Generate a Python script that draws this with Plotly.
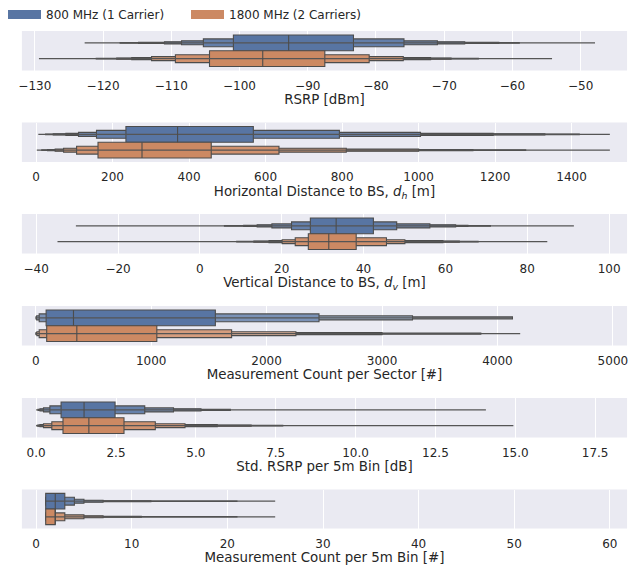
import plotly.graph_objects as go

# ---------------- data ----------------
series_names = ["800 MHz (1 Carrier)", "1800 MHz (2 Carriers)"]

axis_titles = [
    "RSRP [dBm]",
    "Horizontal Distance to BS, <i>d<sub>h</sub></i> [m]",
    "Vertical Distance to BS, <i>d<sub>v</sub></i> [m]",
    "Measurement Count per Sector [#]",
    "Std. RSRP per 5m Bin [dB]",
    "Measurement Count per 5m Bin [#]",
]

# letter values: lower / upper box ends, innermost box first
rsrp_800_low = [-100.9, -105.3, -108.5, -111.0, -114.8, -117.5]
rsrp_800_high = [-83.3, -75.9, -71.0, -67.0, -62.0, -59.0]
rsrp_800_median = -92.8
rsrp_800_minmax = [-122.7, -47.9]
rsrp_1800_low = [-104.4, -109.4, -112.9, -115.8, -118.0, -121.0]
rsrp_1800_high = [-87.5, -81.0, -76.0, -72.0, -69.0, -65.0]
rsrp_1800_median = -96.6
rsrp_1800_minmax = [-129.4, -54.2]

dh_800_low = [235, 158, 111, 78, 45, 25]
dh_800_high = [568, 793, 1005, 1195, 1330, 1420]
dh_800_median = 370
dh_800_minmax = [6, 1500]
dh_1800_low = [162, 106, 72, 50, 30, 15]
dh_1800_high = [458, 635, 811, 1000, 1142, 1280]
dh_1800_median = 277
dh_1800_minmax = [2, 1500]

dv_800_low = [27.0, 22.4, 17.6, 14.0, 10.7, 6.0]
dv_800_high = [42.4, 48.1, 56.2, 62.5, 65.5, 71.0]
dv_800_median = 33.3
dv_800_minmax = [-30.3, 91.4]
dv_1800_low = [26.5, 23.3, 20.1, 16.9, 13.2, 9.0]
dv_1800_high = [38.2, 45.6, 50.1, 59.4, 63.4, 68.0]
dv_1800_median = 31.5
dv_1800_minmax = [-34.8, 84.9]

mcs_800_low = [90, 30, 8, 2]
mcs_800_high = [1556, 2454, 3264, 4130]
mcs_800_median = 327
mcs_800_minmax = [0, 4130]
mcs_1800_low = [95, 30, 10, 4, 2]
mcs_1800_high = [1049, 1697, 2254, 3000, 3856]
mcs_1800_median = 356
mcs_1800_minmax = [0, 4197]

std_800_low = [0.78, 0.43, 0.23, 0.12, 0.06]
std_800_high = [2.47, 3.40, 4.30, 5.16, 6.08]
std_800_median = 1.50
std_800_minmax = [0.0, 14.08]
std_1800_low = [0.84, 0.49, 0.23, 0.12, 0.06, 0.03]
std_1800_high = [2.75, 3.73, 4.66, 5.67, 6.73, 7.72]
std_1800_median = 1.65
std_1800_minmax = [0.0, 14.94]

mcb_800_low = [1, 1, 1, 1, 1, 1]
mcb_800_high = [3, 4, 5, 7, 12, 21]
mcb_800_median = 2
mcb_800_minmax = [1, 25]
mcb_1800_low = [1, 1, 1, 1, 1, 1]
mcb_1800_high = [2, 3, 5, 7, 11, 21]
mcb_1800_median = 2
mcb_1800_minmax = [1, 25]

x_ranges = [[-131.9, -43.2], [-37, 1545], [-43.5, 104.4], [-120, 5123], [-0.447, 18.5], [-1.49, 61.8]]
x_dticks = [10, 200, 20, 1000, 2.5, 10]
x_formats = ["", "d", "", "d", ".1f", ""]

panels = [
    [(rsrp_800_low, rsrp_800_high, rsrp_800_median, rsrp_800_minmax),
     (rsrp_1800_low, rsrp_1800_high, rsrp_1800_median, rsrp_1800_minmax)],
    [(dh_800_low, dh_800_high, dh_800_median, dh_800_minmax),
     (dh_1800_low, dh_1800_high, dh_1800_median, dh_1800_minmax)],
    [(dv_800_low, dv_800_high, dv_800_median, dv_800_minmax),
     (dv_1800_low, dv_1800_high, dv_1800_median, dv_1800_minmax)],
    [(mcs_800_low, mcs_800_high, mcs_800_median, mcs_800_minmax),
     (mcs_1800_low, mcs_1800_high, mcs_1800_median, mcs_1800_minmax)],
    [(std_800_low, std_800_high, std_800_median, std_800_minmax),
     (std_1800_low, std_1800_high, std_1800_median, std_1800_minmax)],
    [(mcb_800_low, mcb_800_high, mcb_800_median, mcb_800_minmax),
     (mcb_1800_low, mcb_1800_high, mcb_1800_median, mcb_1800_minmax)],
]

# ---------------- style ----------------
W, H = 641, 567
base_colors = ["#5875A3", "#CC8963"]
gray = "#4C4C4C"
text_color = "#262626"
bg = "#EAEAF2"
font_family = "DejaVu Sans, Liberation Sans, sans-serif"
color_depth = [(13, 13), (13, 13), (13, 13), (5, 6), (11, 11), (9, 9)]
dodge = [-0.2, 0.2]
box_width = 0.4
plot_left, plot_right = 19, 628
panel_px = [(31, 70.5), (122.5, 162), (214, 253.5), (306, 345.5), (398, 437.5), (489.5, 528.5)]


def blend_white(hexc, t):
    r, g, b = int(hexc[1:3], 16), int(hexc[3:5], 16), int(hexc[5:7], 16)
    r = round(r + (255 - r) * t)
    g = round(g + (255 - g) * t)
    b = round(b + (255 - b) * t)
    return f"rgb({r},{g},{b})"


fig = go.Figure()

for p, series in enumerate(panels):
    ax = "" if p == 0 else str(p + 1)
    xref, yref = "x" + ax, "y" + ax
    for s, (low, high, med, mm) in enumerate(series):
        pos = dodge[s]
        k = color_depth[p][s]
        # whisker / extreme line
        fig.add_trace(go.Scatter(
            x=mm, y=[pos, pos], mode="lines",
            line=dict(color="#555555", width=1.3),
            xaxis=xref, yaxis=yref, showlegend=False, hoverinfo="skip"))
        n = len(low)
        order = list(range(n))[::-1]  # outermost first so inner boxes sit on top
        fig.add_trace(go.Bar(
            orientation="h",
            y=[pos] * n,
            base=[low[i] for i in order],
            x=[high[i] - low[i] for i in order],
            width=[box_width * 0.5 ** i for i in order],
            marker=dict(
                color=[blend_white(base_colors[s], 0.85 * i / (k - 1)) for i in order],
                line=dict(color=gray, width=1.1)),
            xaxis=xref, yaxis=yref, showlegend=False,
            name=series_names[s], legendgroup=series_names[s]))
        fig.add_trace(go.Scatter(
            x=[med, med], y=[pos - box_width / 2, pos + box_width / 2], mode="lines",
            line=dict(color=gray, width=1.1),
            xaxis=xref, yaxis=yref, showlegend=False, hoverinfo="skip"))

# legend entries
for s in range(2):
    fig.add_trace(go.Scatter(
        x=[None], y=[None], mode="lines", name=series_names[s],
        legendgroup=series_names[s],
        line=dict(color=base_colors[s], width=9), showlegend=True))

layout = dict(
    width=W, height=H,
    margin=dict(l=0, r=0, t=0, b=0),
    paper_bgcolor="white",
    plot_bgcolor=bg,
    barmode="overlay",
    font=dict(family=font_family, size=12, color=text_color),
    showlegend=True,
    legend=dict(orientation="h", x=0.0, y=1.0, xanchor="left", yanchor="top",
                font=dict(size=12, color=text_color), itemwidth=33,
                entrywidth=135, entrywidthmode="pixels",
                bgcolor="rgba(0,0,0,0)", tracegroupgap=0),
)

for p in range(6):
    ax = "" if p == 0 else str(p + 1)
    top, bot = panel_px[p]
    layout["xaxis" + ax] = dict(
        domain=[plot_left / W, plot_right / W],
        anchor="y" + ax,
        range=x_ranges[p],
        tick0=0, dtick=x_dticks[p],
        tickformat=x_formats[p],
        showgrid=True, gridcolor="white", gridwidth=1,
        zeroline=False, showline=False, ticks="",
        ticklabelstandoff=6,
        tickfont=dict(size=12, color=text_color),
        title=dict(text=axis_titles[p], font=dict(size=13.4, color=text_color), standoff=3),
        fixedrange=True,
    )
    layout["yaxis" + ax] = dict(
        domain=[1 - bot / H, 1 - top / H],
        anchor="x" + ax,
        range=[0.5, -0.5],
        showticklabels=False, showgrid=False, zeroline=False, showline=False,
        ticks="", fixedrange=True,
    )

fig.update_layout(**layout)
fig.write_html("out.html")
